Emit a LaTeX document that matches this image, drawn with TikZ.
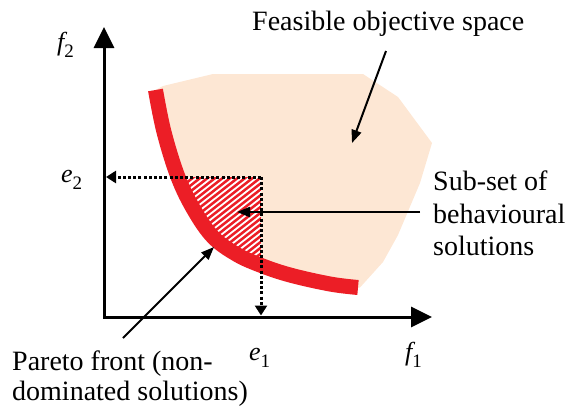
\documentclass[tikz,border=0pt]{standalone}
\usepackage{fontspec}
\setmainfont{Liberation Serif}
\usetikzlibrary{arrows.meta}
\definecolor{peach}{RGB}{253,231,212}
\definecolor{pred}{RGB}{236,30,38}
\newcommand{\sbx}[1]{\raisebox{-7pt}{\fontsize{19}{19}\selectfont\upshape #1}}
\newcommand{\frontpts}{(155.5,90) (164,132) (178,177) (194,210) (213,237) (236,254) (260,265) (290,275) (330,284) (358,287.5)}
\begin{document}
\begin{tikzpicture}[x=1pt,y=-1pt,
 lbl/.style={font=\fontsize{28}{30}\selectfont, inner sep=0pt, anchor=base west},
 mlbl/.style={font=\fontsize{26}{26}\selectfont\itshape, inner sep=0pt, anchor=base west},
 axis/.style={line width=3pt, {Triangle[length=21pt,width=20pt]}-{Triangle[length=21pt,width=20pt]}},
 dotline/.style={line width=3pt, dash pattern=on 3pt off 2.2pt, -{Triangle[length=10pt,width=12pt]}},
 ptr/.style={line width=2pt, -{Triangle[length=13pt,width=10pt]}},
 front/.style={draw=pred, line width=15pt}
]
\useasboundingbox (0,0) rectangle (568,410);
% feasible region
\fill[peach] plot[smooth, tension=0.6] coordinates {\frontpts} -- (360,287.5) -- (383,262) -- (398,235) -- (420,183) -- (432,143) -- (398,97) -- (363,74) -- (213,74) -- (163,86) -- cycle;
% hatched subset
\begin{scope}
\clip plot[smooth, tension=0.6] coordinates {\frontpts} -- (358,60) -- cycle;
\clip (150,177) rectangle (261,300);
\fill[pred] (150,177) rectangle (261,300);
\foreach \i in {0,...,40} \draw[white, line width=1.8pt] (-20+7.5*\i,300) -- ++(200,-156);
\end{scope}
% Pareto front
\draw[front] plot[smooth, tension=0.6] coordinates {\frontpts};
% axes
\coordinate (o) at (104,317);
\coordinate (ytop) at (104,27);
\coordinate (xend) at (432,317);
\draw[axis] (ytop) -- (o) -- (xend);
% dotted projections
\coordinate (c) at (261,177);
\coordinate (e2p) at (106,177);
\coordinate (e1p) at (261,315.5);
\draw[dotline] (c) -- (e2p);
\draw[dotline] (c) -- (e1p);
% labels
\node[mlbl] (f2) at (57,50) {f\sbx{2}};
\node[mlbl] (e2) at (61,182) {e\sbx{2}};
\node[mlbl] (e1) at (249,360) {e\sbx{1}};
\node[mlbl] (f1) at (405,360) {f\sbx{1}};
\node[lbl] (feas) at (252,30) {Feasible objective space};
\node[lbl] (sub1) at (433,190) {Sub-set of};
\node[lbl] (sub2) at (433,223) {behavioural};
\node[lbl] (sub3) at (433,255) {solutions};
\node[lbl] (par1) at (12,370) {Pareto front (non-};
\node[lbl] (par2) at (12,400) {dominated solutions)};
% pointers
\coordinate (feastail) at (386,51);
\coordinate (feastip) at (352,143);
\coordinate (subtail) at (420,212);
\coordinate (subtip) at (237,212);
\coordinate (partail) at (123,338);
\coordinate (partip) at (214,247);
\draw[ptr] (feastail) -- (feastip);
\draw[ptr] (subtail) -- (subtip);
\draw[ptr] (partail) -- (partip);
\end{tikzpicture}
\end{document}
